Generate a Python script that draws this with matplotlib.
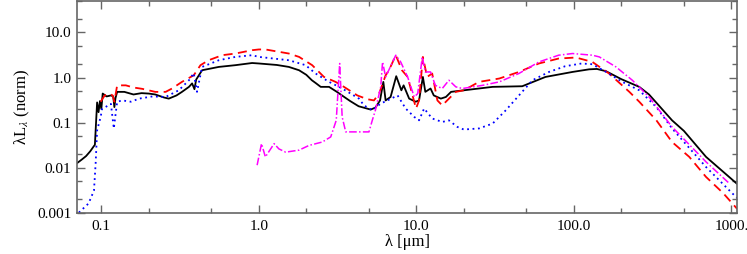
import matplotlib
matplotlib.use("Agg")
import matplotlib.pyplot as plt
from matplotlib.ticker import LogLocator, NullFormatter

plt.rcParams['font.family'] = ['Liberation Serif', 'DejaVu Serif']
plt.rcParams['mathtext.fontset'] = 'stix'

# black solid
wl_k = [0.07, 0.075, 0.08, 0.085, 0.0897, 0.091, 0.094, 0.096, 0.098, 0.1, 0.102,
        0.108, 0.115, 0.119, 0.121, 0.123, 0.126, 0.14, 0.16, 0.18, 0.2, 0.22, 0.25,
        0.268, 0.3, 0.325, 0.36, 0.377, 0.39, 0.40, 0.436, 0.557, 0.71, 0.906, 1.0,
        1.3, 1.55, 1.8, 2.0, 2.17, 2.3, 2.47, 2.79, 3.13, 3.37, 3.8, 4.3, 5.13, 5.5,
        5.88, 6.17, 6.38, 6.86, 7.45, 8.03, 8.3, 9.0, 9.9, 10.4, 11.0, 11.4, 12.3,
        12.9, 14.3, 15.4, 16.6, 18.2, 20, 30.5, 47, 66, 98, 125, 140, 160, 200, 260,
        300, 420, 500, 690, 1000, 1090]
lum_k = [0.0125, 0.015, 0.018, 0.023, 0.030, 0.032, 0.28, 0.17, 0.30, 0.20, 0.44,
         0.38, 0.40, 0.38, 0.22, 0.35, 0.48, 0.48, 0.42, 0.45, 0.44, 0.42, 0.36,
         0.34, 0.40, 0.48, 0.62, 0.74, 0.55, 0.90, 1.45, 1.72, 1.88, 2.1, 2.05,
         1.9, 1.72, 1.45, 1.15, 0.87, 0.75, 0.62, 0.62, 0.48, 0.40, 0.30, 0.23, 0.194, 0.215,
         0.31, 0.80, 0.31, 0.37, 1.07, 0.52, 0.67, 0.34, 0.29, 0.31, 1.03, 0.48, 0.57,
         0.40, 0.34, 0.37, 0.48, 0.50, 0.52, 0.62, 0.64, 1.03, 1.33, 1.52, 1.55, 1.38, 0.92, 0.62,
         0.42, 0.112, 0.065, 0.0173, 0.0056, 0.0043]

# red dashed
wl_r = [0.099, 0.105, 0.112, 0.118, 0.121, 0.126, 0.143, 0.16, 0.182, 0.22, 0.256,
        0.281, 0.325, 0.386, 0.426, 0.48, 0.585, 0.71, 0.906, 1.0, 1.1, 1.55, 1.8,
        2.18, 2.59, 3.07, 3.47, 4.22, 4.88, 5.38, 5.8, 6.38, 6.7, 7.4, 8.1, 8.8, 9.95,
        10.4, 11.0, 11.7, 12.6, 13.6, 14.6, 16.1, 17.8, 20, 25, 33.6, 44.8, 60, 80,
        103, 131, 167, 225, 260, 334, 420, 540, 690, 887, 1090]
lum_r = [0.29, 0.40, 0.44, 0.40, 0.29, 0.67, 0.67, 0.60, 0.56, 0.48, 0.48,
         0.57, 0.80, 1.12, 1.88, 2.42, 3.13, 3.41, 4.04, 4.2, 4.2, 3.41, 2.87,
         1.88, 1.03, 0.80, 0.62, 0.40, 0.33, 0.31, 0.44, 1.12, 1.45, 3.13, 1.45, 1.03, 0.205,
         0.31, 2.87, 1.03, 1.23, 0.31, 0.24, 0.34, 0.48, 0.52, 0.80, 0.95, 1.33, 2.05, 2.64,
         2.78, 2.22, 1.23, 0.48, 0.29, 0.112, 0.037, 0.0173, 0.0062, 0.0027, 0.0012]

# blue dotted
wl_b = [0.072, 0.083, 0.0898, 0.092, 0.094, 0.099, 0.101, 0.106, 0.115, 0.12, 0.126,
        0.136, 0.154, 0.174, 0.211, 0.256, 0.31, 0.36, 0.386, 0.405, 0.436, 0.557,
        0.71, 0.906, 1.0, 1.55, 1.98, 2.29, 2.79, 3.38, 4.32, 4.65, 5.25, 5.94, 6.55,
        7.6, 8.55, 9.7, 10.4, 11.2, 12.6, 14.6, 16.1, 18.2, 20, 25, 30.5, 37, 44.8,
        54.6, 69.5, 88, 112, 131, 160, 203, 260, 334, 420, 690, 1000, 1090]
lum_b = [0.001, 0.0016, 0.0031, 0.0123, 0.067, 0.133, 0.20, 0.22, 0.26, 0.074, 0.29,
         0.31, 0.29, 0.34, 0.38, 0.37, 0.52, 0.87, 1.25, 0.48, 1.72, 2.42,
         2.87, 3.13, 2.87, 2.42, 1.88, 1.23, 0.80, 0.57, 0.34, 0.24, 0.188, 0.264, 0.31,
         0.40, 0.205, 0.133, 0.112, 0.205, 0.123, 0.103, 0.112, 0.08, 0.07, 0.074, 0.095, 0.188, 0.40,
         0.87, 1.33, 1.78, 2.05, 1.97, 1.33, 0.80, 0.52, 0.22, 0.074, 0.0103, 0.0028, 0.0021]

# magenta dash-dot
wl_m = [0.975, 1.04, 1.1, 1.25, 1.34, 1.48, 1.8, 2.08, 2.53, 2.86, 3.1, 3.26, 3.38,
        3.56, 4.1, 5.0, 5.25, 5.5, 5.94, 6.1, 6.38, 7.4, 7.95, 8.8, 9.7, 10.2, 10.9,
        11.4, 12.3, 13.2, 14.6, 16.1, 17.8, 19.6, 26.3, 33.6, 44.8, 60, 80, 98, 131,
        145, 185, 235, 300, 420, 690, 973]
lum_m = [0.0113, 0.034, 0.0172, 0.034, 0.026, 0.022, 0.0244, 0.031, 0.037, 0.048, 0.112, 2.05, 0.133,
         0.062, 0.062, 0.062, 0.112, 0.19, 0.62, 2.22, 1.03, 3.13, 2.22, 1.03, 0.37, 0.44, 2.87,
         1.33, 1.33, 0.67, 0.57, 0.87, 0.62, 0.57, 0.67, 0.80, 1.23, 2.22, 3.13, 3.41, 3.13,
         2.87, 1.72, 0.87, 0.37, 0.08, 0.0134, 0.0044]

xticks = [0.1, 1.0, 10.0, 100.0, 1000.0]
xlabels = ['0.1', '1.0', '10.0', '100.0', '1000.']
yticks = [0.001, 0.01, 0.1, 1.0, 10.0]
ylabels = ['0.001', '0.01', '0.1', '1.0', '10.0']

fig = plt.figure(figsize=(7.47, 2.54), dpi=100)
ax = fig.add_axes([0.103, 0.163, 0.884, 0.833])

ax.plot(wl_k, lum_k, color='black', lw=1.3, ls='-')
ax.plot(wl_r, lum_r, color='red', lw=1.3, ls=(0, (5, 3)))
ax.plot(wl_b, lum_b, color='blue', lw=1.3, ls=(0, (1, 2)))
ax.plot(wl_m, lum_m, color='magenta', lw=1.1, ls=(0, (5, 1.5, 1, 1.5)))

ax.set_xscale('log')
ax.set_yscale('log')
ax.set_xlim(0.07, 1090)
ax.set_ylim(0.001, 50)

ax.set_xticks(xticks, labels=xlabels)
ax.set_yticks(yticks, labels=ylabels)
ax.xaxis.set_minor_locator(LogLocator(base=10, subs=(2, 5), numticks=20))
ax.yaxis.set_minor_locator(LogLocator(base=10, subs=(2, 5), numticks=20))
ax.xaxis.set_minor_formatter(NullFormatter())
ax.yaxis.set_minor_formatter(NullFormatter())

for s in ax.spines.values():
    s.set_color('0.4')
    s.set_linewidth(1.2)
ax.tick_params(which='both', direction='in', top=True, right=True, color='0.4',
               labelsize=11)
ax.tick_params(which='major', length=5.5, width=1.0)
ax.tick_params(which='minor', length=3.3, width=1.0)
ax.tick_params(axis='x', pad=5)
ax.tick_params(axis='y', pad=4)

ax.set_xlabel('λ [μm]', fontsize=12, labelpad=1)
ax.set_ylabel(r'λL$_\lambda$ (norm)', fontsize=12, labelpad=4)

fig.savefig('out.png', dpi=100)
